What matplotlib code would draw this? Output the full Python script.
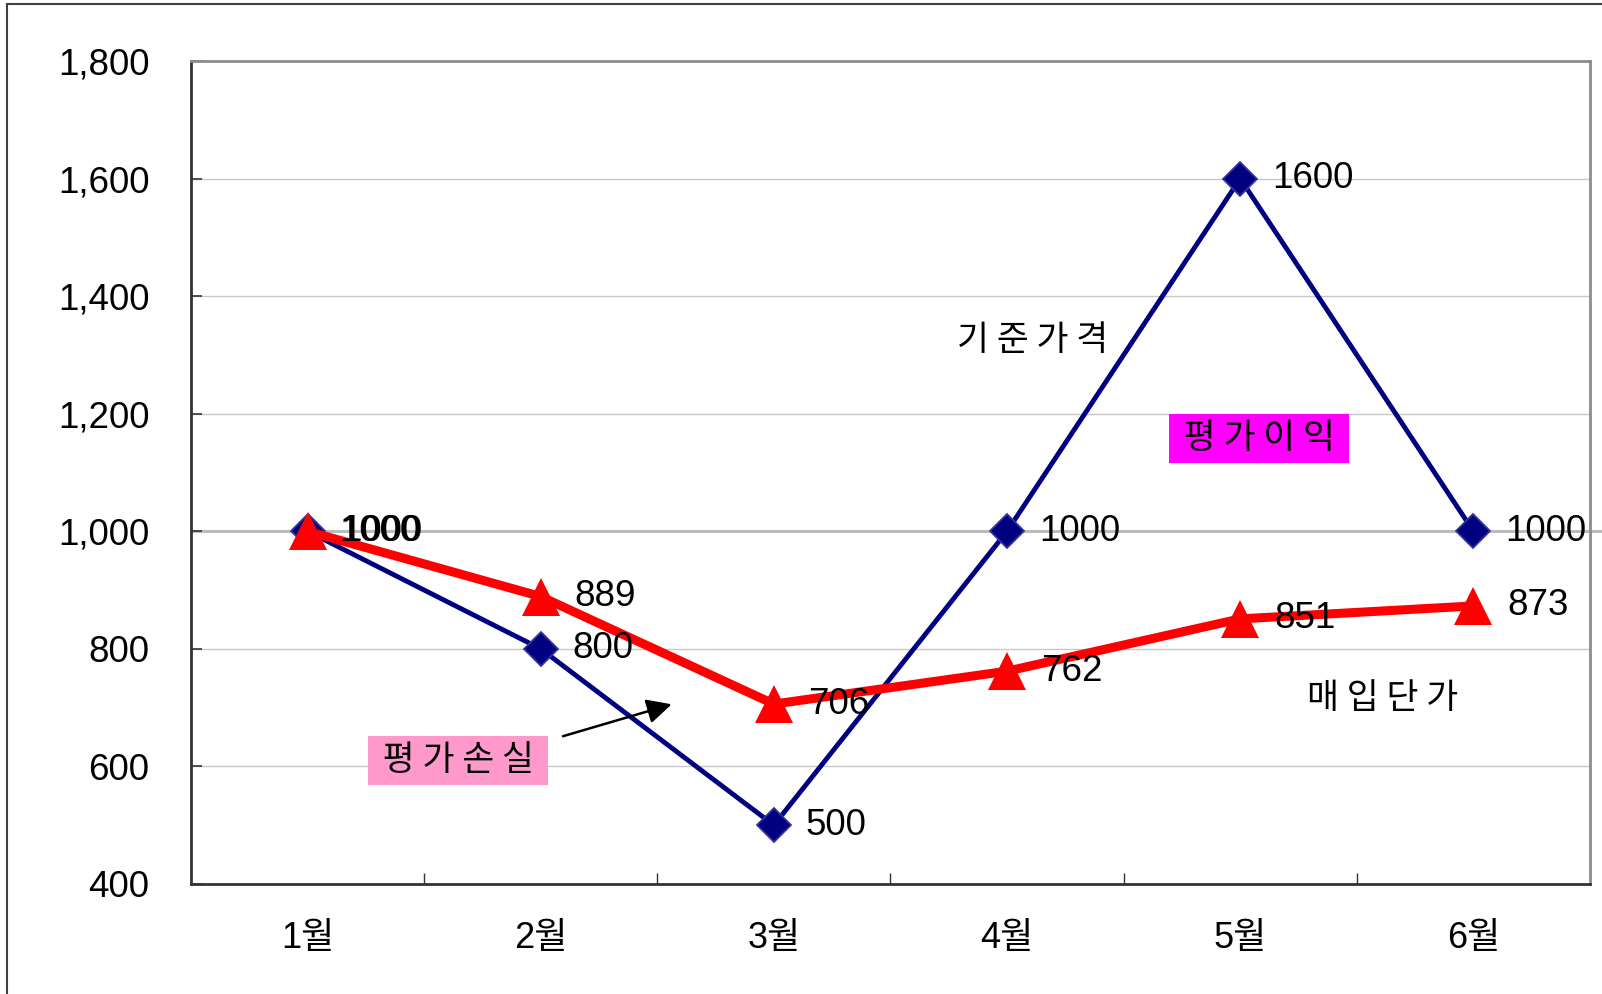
import matplotlib.pyplot as plt
from matplotlib.patches import Rectangle

plt.rcParams['font.family'] = ['Liberation Sans', 'Noto Sans CJK KR']

months = ['1월', '2월', '3월', '4월', '5월', '6월']
base_price = [1000, 800, 500, 1000, 1600, 1000]
unit_cost = [1000, 889, 706, 762, 851, 873]
y_ticks = [400, 600, 800, 1000, 1200, 1400, 1600, 1800]

KR = ['Noto Sans CJK KR']


def main():
    fig = plt.figure(figsize=(16.02, 9.94), dpi=100)
    ax = fig.add_axes([0.1192, 0.1107, 0.9925 - 0.1192, 0.9386 - 0.1107])

    # outer chart border (left and top only visible)
    fig.patches.append(Rectangle((7 / 1602, -0.1), 1.2, 1.1 - 4 / 994,
                                 transform=fig.transFigure, fill=False,
                                 edgecolor='#404040', linewidth=1.5))

    x = range(len(months))
    ax.set_xlim(-0.5, len(months) - 0.5)
    ax.set_ylim(400, 1800)

    ax.set_yticks(y_ticks)
    ax.set_yticklabels([f'{v:,}' for v in y_ticks])
    ax.set_xticks(list(x))
    ax.set_xticklabels(months)
    ax.set_xticks([i + 0.5 for i in range(len(months) - 1)], minor=True)

    ax.tick_params(axis='y', direction='in', length=8, width=1.2, color='#333333',
                   labelsize=26.5, pad=30)
    ax.tick_params(axis='x', which='major', length=0, labelsize=26, pad=27)
    ax.tick_params(axis='x', which='minor', direction='in', length=8, width=1,
                   color='#333333')

    for v in y_ticks[1:-1]:
        if v != 1000:
            ax.axhline(v, color='#c8c8c8', linewidth=1, zorder=1)
    ax.axhline(1000, xmax=1.007, color='#bcbcbc', linewidth=2.2, zorder=1, clip_on=False)

    for side in ['left', 'bottom']:
        ax.spines[side].set_color('#333333')
        ax.spines[side].set_linewidth(2)
    for side in ['top', 'right']:
        ax.spines[side].set_color('#8c8c8c')
        ax.spines[side].set_linewidth(2)

    ax.plot(x, base_price, color='#000080', linewidth=3.5, marker='D',
            markersize=17, markerfacecolor='#000080', markeredgecolor='#333399',
            markeredgewidth=1.3, zorder=3)
    ax.plot(x, unit_cost, color='#ff0000', linewidth=6.5, marker='^',
            markersize=27, markeredgewidth=0, zorder=4)

    for i, v in enumerate(base_price):
        ax.annotate(str(v), (i, v), xytext=(23, 0), textcoords='offset points',
                    ha='left', va='center', fontsize=26.5, zorder=5)
    for i, v in enumerate(unit_cost):
        ax.annotate(str(v), (i, v), xytext=(24.5, 0), textcoords='offset points',
                    ha='left', va='center', fontsize=26.5, zorder=5)

    ax.text(3.11, 1325, '기 준 가 격', ha='center', va='center', fontsize=25,
            family=KR, zorder=6)
    ax.text(4.61, 715, '매 입 단 가', ha='center', va='center', fontsize=25,
            family=KR, zorder=6)
    ax.text(4.08, 1158, ' 평 가 이 익 ', ha='center', va='center', fontsize=25,
            family=KR, zorder=6,
            bbox=dict(boxstyle='square,pad=0.2', facecolor='#ff00ff', edgecolor='none'))
    ax.text(0.646, 610, ' 평 가 손 실 ', ha='center', va='center', fontsize=25,
            family=KR, zorder=6,
            bbox=dict(boxstyle='square,pad=0.2', facecolor='#ff99cc', edgecolor='none'))

    ax.annotate('', xy=(1.573, 707), xytext=(1.084, 650), zorder=6,
                arrowprops=dict(arrowstyle='-|>,head_length=1.5,head_width=0.75',
                                color='black', linewidth=1.8))

    fig.savefig('out.png', dpi=100)


if __name__ == "__main__":
    main()
